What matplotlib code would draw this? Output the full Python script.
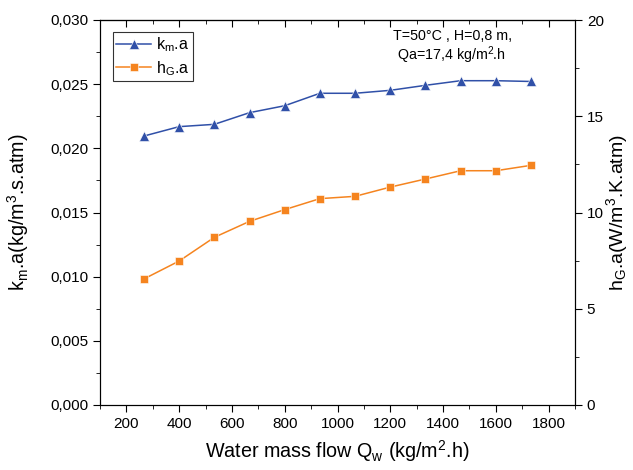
import matplotlib
matplotlib.use("Agg")
import matplotlib.pyplot as plt
from matplotlib.ticker import MultipleLocator, FuncFormatter

plt.rcParams['font.family'] = ['Liberation Sans', 'DejaVu Sans']
plt.rcParams['mathtext.fontset'] = 'custom'
plt.rcParams['mathtext.rm'] = 'Liberation Sans'
plt.rcParams['mathtext.it'] = 'Liberation Sans'

water_flow = [266.7, 400, 533.3, 666.7, 800, 933.3, 1066.7, 1200, 1333.3, 1466.7, 1600, 1733.3]
km_a = [0.02096, 0.02169, 0.02187, 0.02278, 0.02332, 0.02429, 0.02429, 0.02452, 0.02491, 0.02527, 0.02527, 0.02521]
hG_a = [6.55, 7.48, 8.71, 9.54, 10.15, 10.72, 10.84, 11.32, 11.74, 12.17, 12.17, 12.45]

blue = '#3050a8'
orange = '#f5841f'

fig = plt.figure(figsize=(6.33, 4.70), dpi=100)
ax = fig.add_axes([100/633, 65/470, 475/633, 385/470])
ax2 = ax.twinx()

l1, = ax.plot(water_flow, km_a, color=blue, marker='^', markersize=7, lw=1.1,
              markeredgecolor='white', markeredgewidth=0.4, label='k$_\\mathrm{m}$.a')
l2, = ax2.plot(water_flow, hG_a, color=orange, marker='s', markersize=6, lw=1.1,
               markeredgecolor='white', markeredgewidth=0.4, label='h$_\\mathrm{G}$.a')

ax.set_xlim(100, 1900)
ax.set_ylim(0, 0.030)
ax2.set_ylim(0, 20)

ax.xaxis.set_major_locator(MultipleLocator(200))
ax.xaxis.set_minor_locator(MultipleLocator(100))
ax.yaxis.set_major_locator(MultipleLocator(0.005))
ax.yaxis.set_minor_locator(MultipleLocator(0.0025))
ax2.yaxis.set_major_locator(MultipleLocator(5))
ax2.yaxis.set_minor_locator(MultipleLocator(2.5))

ax.yaxis.set_major_formatter(FuncFormatter(lambda v, p: f"{v:.3f}".replace('.', ',')))
ax2.yaxis.set_major_formatter(FuncFormatter(lambda v, p: f"{v:.0f}"))

ax.tick_params(axis='x', which='both', direction='out', labelsize=11)
ax.tick_params(axis='y', which='both', direction='out', labelsize=11)
ax2.tick_params(axis='y', which='both', direction='out', labelsize=11)
ax.tick_params(which='major', length=5)
ax.tick_params(which='minor', length=3)
ax2.tick_params(which='major', length=5)
ax2.tick_params(which='minor', length=3)

# inward ticks on the top spine
top = ax.secondary_xaxis('top')
top.xaxis.set_major_locator(MultipleLocator(200))
top.xaxis.set_minor_locator(MultipleLocator(100))
top.tick_params(which='both', direction='in', labeltop=False, length=5)
top.tick_params(which='minor', length=3)

ax.set_xlabel('Water mass flow Q$_\\mathrm{w}$ (kg/m$^\\mathrm{2}$.h)', fontsize=14.2, labelpad=5)
ax.set_ylabel('k$_\\mathrm{m}$.a(kg/m$^\\mathrm{3}$.s.atm)', fontsize=14.2)
ax2.set_ylabel('h$_\\mathrm{G}$.a(W/m$^\\mathrm{3}$.K.atm)', fontsize=14)
ax.yaxis.set_label_coords((31 - 100) / 475, 0.5)
ax2.yaxis.set_label_coords((604 - 100) / 475, 0.5)

leg = ax.legend(handles=[l1, l2], loc='upper left', bbox_to_anchor=(0.027, 0.968),
                fontsize=11.5, frameon=True, fancybox=False, edgecolor='black',
                handlelength=2.2, borderpad=0.2, labelspacing=0.3, handletextpad=0.3,
                borderaxespad=0.0)
leg.get_frame().set_linewidth(0.8)

ax.text(0.617, 0.958, 'T=50°C , H=0,8 m,', transform=ax.transAxes, fontsize=10.3, ha='left', va='center')
ax.text(0.625, 0.909, 'Qa=17,4 kg/m$^\\mathrm{2}$.h', transform=ax.transAxes, fontsize=10.3, ha='left', va='center')

fig.savefig('out.png', dpi=100)
